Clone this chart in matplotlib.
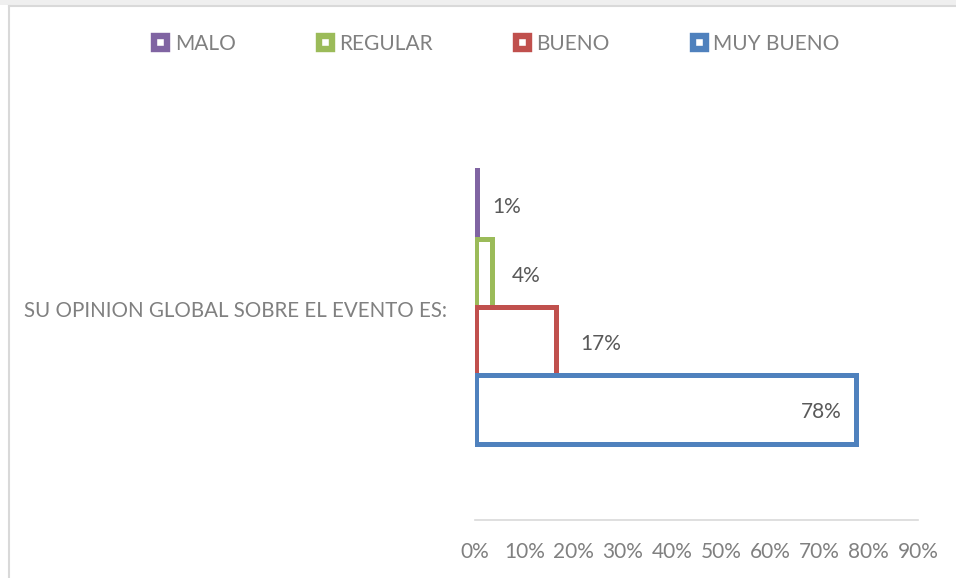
import matplotlib
matplotlib.use("Agg")
import matplotlib.pyplot as plt
from matplotlib.patches import Patch, Rectangle
from matplotlib.lines import Line2D
from matplotlib.ticker import MultipleLocator, PercentFormatter

plt.rcParams['font.family'] = ['Lato', 'DejaVu Sans']

# data
category = "SU OPINION GLOBAL SOBRE EL EVENTO ES:"
series = ["MALO", "REGULAR", "BUENO", "MUY BUENO"]
values = [0.01, 0.04, 0.17, 0.78]
labels = ["1%", "4%", "17%", "78%"]
colors = ["#8064A2", "#9BBB59", "#C0504D", "#4F81BD"]

W, H = 956, 578
fig = plt.figure(figsize=(W / 100, H / 100), dpi=100)
ax_px = (475, 94, 918, 520)  # left, top, right, bottom in pixels
ax = fig.add_axes([ax_px[0] / W, 1 - ax_px[3] / H, (ax_px[2] - ax_px[0]) / W,
                   (ax_px[3] - ax_px[1]) / H])
xmax = 0.9
ax.set_xlim(0, xmax)
ax.set_ylim(4.62, -1.62)

# excel keeps the outline inside the bar's right end
stroke_px = 5
px_per_x = (ax_px[2] - ax_px[0]) / xmax
inset = stroke_px / 2 / px_per_x
left = 0.4 * inset

pos = list(range(len(series)))
for p, v, c in zip(pos, values, colors):
    ax.barh(p, max(v - inset - left, 0.0002), left=left, height=1.0, facecolor="white",
            edgecolor=c, linewidth=stroke_px * 0.72, zorder=3)

# data labels: outside end, last one inside end (offsets in px)
lab_offsets = [12, 17, 22, -17]
for p, v, t, off in zip(pos, values, labels, lab_offsets):
    ha = "left" if off > 0 else "right"
    ax.annotate(t, (v, p), xytext=(off * 0.72, -2), textcoords="offset points",
                ha=ha, va="center", fontsize=15, color="#595959")

ax.xaxis.set_major_locator(MultipleLocator(0.1))
ax.xaxis.set_major_formatter(PercentFormatter(1.0, decimals=0))
ax.tick_params(axis="x", length=0, pad=16, labelsize=15, labelcolor="#808080")
ax.set_yticks([])
for s in ["top", "right", "left"]:
    ax.spines[s].set_visible(False)
ax.spines["bottom"].set_color("#d9d9d9")
ax.spines["bottom"].set_linewidth(1.2)

fig.text(447 / W, 1 - 311 / H, category, ha="right", va="center",
         fontsize=14.8, color="#808080")

handles = [Patch(facecolor="white", edgecolor=c, linewidth=4.6) for c in colors]
fig.legend(handles, series, loc="center", bbox_to_anchor=(497 / W, 1 - 44 / H),
           ncol=4, frameon=False, fontsize=15, labelcolor="#808080",
           handlelength=0.62, handleheight=0.62, handletextpad=0.35, columnspacing=4.0)

# chart area border (left and top edges visible) and screenshot strip at top
fig.add_artist(Rectangle((0, 1 - 5 / H), 1, 5 / H, transform=fig.transFigure,
                         facecolor="#efefef", edgecolor="none"))
fig.add_artist(Line2D([8.5 / W, 8.5 / W], [0, 1 - 6 / H], transform=fig.transFigure,
                      color="#d9d9d9", linewidth=1.5))
fig.add_artist(Line2D([8.5 / W, 1], [1 - 6 / H, 1 - 6 / H], transform=fig.transFigure,
                      color="#d9d9d9", linewidth=1.5))

fig.savefig("out.png", dpi=100, facecolor="white")
